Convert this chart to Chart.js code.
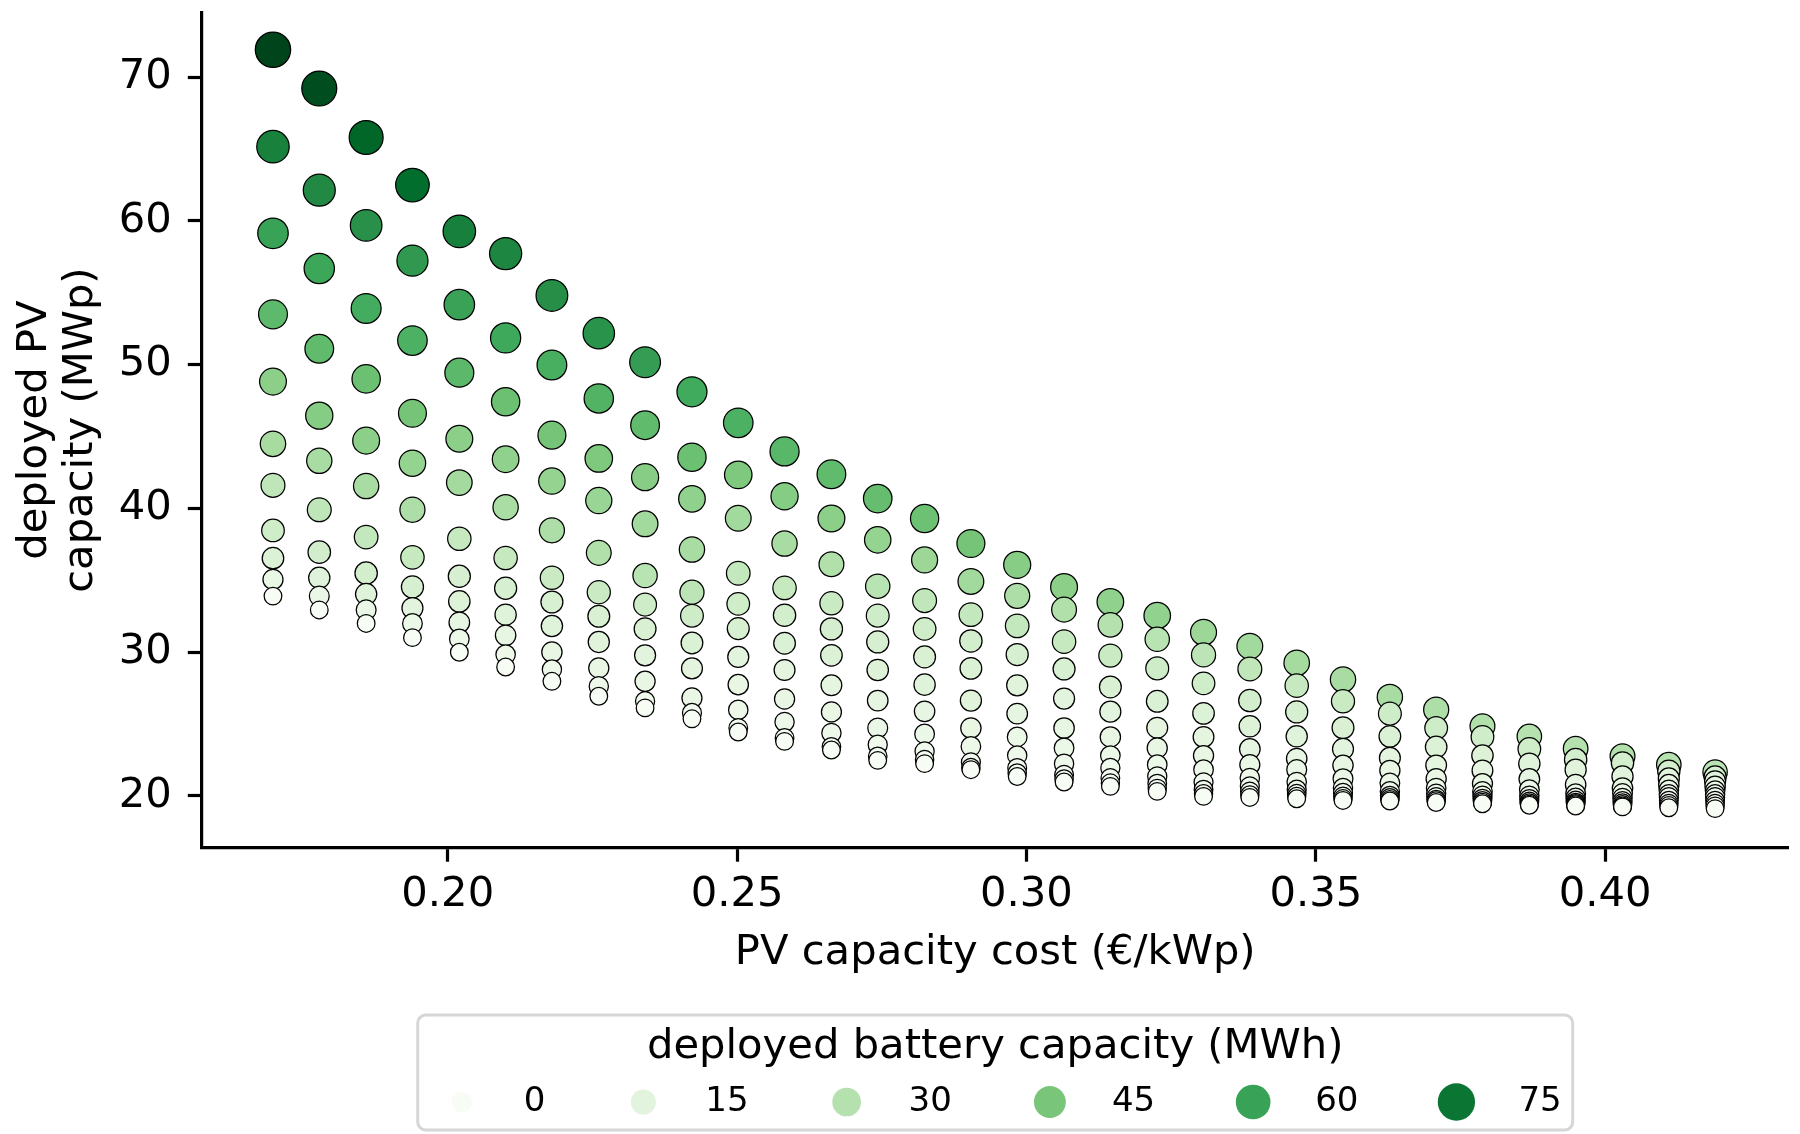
<!DOCTYPE html>
<html><head><meta charset="utf-8">
<script src="https://cdn.jsdelivr.net/npm/chart.js@4.4.1/dist/chart.umd.min.js"></script>
<style>html,body{margin:0;padding:0;background:#fff;overflow:hidden}#wrap{width:1800px;height:1134px}</style>
</head><body><div id="wrap"><canvas id="c" width="1800" height="1134"></canvas></div>
<script>
// ---------- data ----------
const pvCost = [0.1698, 0.1778, 0.1859, 0.1939, 0.2020, 0.2100, 0.2180, 0.2261, 0.2341, 0.2422, 0.2502,
  0.2582, 0.2663, 0.2743, 0.2824, 0.2904, 0.2984, 0.3065, 0.3145, 0.3226, 0.3306, 0.3386, 0.3467,
  0.3547, 0.3628, 0.3708, 0.3788, 0.3869, 0.3949, 0.4030, 0.4110, 0.4190];

const pvCapacity = [
  [71.92, 65.17, 59.14, 53.50, 48.82, 44.49, 41.60, 38.46, 36.53, 35.05, 33.89],
  [69.22, 62.14, 56.69, 51.10, 46.45, 43.31, 39.90, 36.95, 35.16, 33.89, 32.93],
  [65.81, 59.69, 53.91, 49.01, 44.71, 41.55, 38.00, 35.49, 34.03, 32.93, 31.99],
  [62.50, 57.24, 51.68, 46.62, 43.14, 39.90, 36.59, 34.53, 33.06, 31.99, 31.00],
  [59.28, 54.17, 49.44, 44.84, 41.79, 37.88, 35.27, 33.52, 32.06, 30.91, 29.98],
  [57.73, 51.86, 47.42, 43.42, 40.08, 36.54, 34.44, 32.60, 31.16, 29.82, 28.96],
  [54.82, 49.98, 45.09, 41.90, 38.47, 35.17, 33.48, 31.81, 30.00, 28.78, 27.96],
  [52.19, 47.65, 43.47, 40.54, 36.90, 34.16, 32.49, 30.70, 28.89, 27.61, 26.92],
  [50.17, 45.79, 42.17, 38.92, 35.32, 33.30, 31.61, 29.77, 27.96, 26.57, 26.11],
  [48.11, 43.56, 40.66, 37.13, 34.16, 32.53, 30.63, 28.86, 26.80, 25.76, 25.35],
  [45.95, 42.33, 39.31, 35.48, 33.35, 31.63, 29.66, 27.73, 25.97, 24.71, 24.43],
  [43.96, 40.84, 37.55, 34.46, 32.56, 30.61, 28.75, 26.73, 25.13, 24.02, 23.78],
  [42.37, 39.29, 36.11, 33.39, 31.61, 29.77, 27.68, 25.83, 24.37, 23.40, 23.18],
  [40.68, 37.81, 34.58, 32.53, 30.70, 28.75, 26.62, 24.71, 23.55, 22.74, 22.46],
  [39.29, 36.41, 33.58, 31.61, 29.66, 27.73, 25.87, 24.30, 23.08, 22.51, 22.23],
  [37.55, 34.91, 32.60, 30.77, 28.86, 26.62, 24.71, 23.43, 22.32, 21.95, 21.81],
  [36.07, 33.91, 31.82, 29.82, 27.68, 25.71, 24.09, 22.79, 21.93, 21.58, 21.34],
  [34.53, 32.95, 30.72, 28.82, 26.76, 24.71, 23.32, 22.23, 21.46, 21.16, 20.95],
  [33.49, 31.89, 29.75, 27.57, 25.85, 24.09, 22.79, 21.93, 21.23, 20.88, 20.65],
  [32.53, 30.89, 28.86, 26.57, 24.73, 23.32, 22.16, 21.34, 20.84, 20.51, 20.30],
  [31.37, 29.80, 27.82, 25.73, 24.09, 22.79, 21.81, 20.93, 20.42, 20.14, 19.95],
  [30.40, 28.82, 26.62, 24.83, 23.25, 22.16, 21.23, 20.65, 20.30, 20.05, 19.88],
  [29.24, 27.66, 25.83, 24.13, 22.58, 21.81, 20.95, 20.42, 20.14, 19.95, 19.79],
  [28.08, 26.57, 24.73, 23.25, 22.11, 21.18, 20.53, 20.19, 19.95, 19.79, 19.67],
  [26.87, 25.71, 24.13, 22.63, 21.76, 20.88, 20.30, 20.00, 19.84, 19.72, 19.63],
  [25.99, 24.71, 23.39, 22.11, 21.18, 20.53, 20.14, 19.91, 19.74, 19.63, 19.53],
  [24.83, 24.09, 22.79, 21.76, 20.84, 20.30, 20.00, 19.79, 19.65, 19.53, 19.44],
  [24.13, 23.25, 22.23, 21.16, 20.42, 20.00, 19.77, 19.60, 19.49, 19.40, 19.33],
  [23.27, 22.51, 21.81, 20.77, 20.14, 19.85, 19.65, 19.52, 19.44, 19.36, 19.28],
  [22.74, 22.28, 21.34, 20.53, 20.15, 19.84, 19.62, 19.48, 19.36, 19.28, 19.22],
  [22.16, 21.70, 21.20, 20.77, 20.40, 20.10, 19.90, 19.66, 19.45, 19.30, 19.16],
  [21.65, 21.30, 21.00, 20.65, 20.35, 20.10, 19.90, 19.66, 19.45, 19.28, 19.10]
];

const batteryCapacity = [
  [89.0, 71.0, 60.0, 51.0, 40.7, 34.0, 27.0, 21.5, 17.3, 11.6, 3.5],
  [86.4, 68.3, 58.7, 50.2, 42.3, 33.3, 27.0, 21.0, 16.3, 11.0, 3.5],
  [80.0, 66.0, 56.6, 48.1, 40.7, 33.3, 25.8, 20.5, 16.3, 11.0, 3.5],
  [77.9, 63.0, 54.5, 46.0, 38.6, 32.2, 24.8, 19.5, 15.2, 10.4, 3.5],
  [71.5, 59.8, 51.3, 40.7, 34.8, 24.8, 19.5, 16.8, 13.7, 10.0, 3.5],
  [69.4, 57.7, 48.1, 39.6, 33.2, 24.8, 19.5, 16.3, 13.1, 9.4, 3.5],
  [66.7, 55.5, 46.0, 38.6, 32.2, 24.2, 18.9, 16.3, 12.6, 8.9, 3.5],
  [65.1, 53.4, 43.9, 37.5, 31.1, 23.7, 18.4, 15.7, 12.0, 8.9, 3.5],
  [61.5, 50.2, 41.7, 35.4, 29.0, 22.6, 18.4, 15.2, 12.0, 8.3, 3.5],
  [57.1, 48.1, 39.6, 33.3, 27.9, 22.1, 17.8, 14.7, 11.5, 7.8, 3.5],
  [54.5, 43.9, 35.4, 25.8, 21.6, 18.9, 15.2, 12.6, 9.4, 6.7, 3.5],
  [52.0, 42.3, 33.3, 24.8, 20.5, 17.8, 14.7, 12.0, 8.9, 6.7, 3.5],
  [50.2, 40.7, 31.1, 23.7, 20.0, 17.3, 14.2, 11.5, 8.9, 6.2, 3.5],
  [49.2, 38.6, 29.0, 22.6, 19.5, 16.8, 13.6, 11.0, 8.3, 6.2, 3.5],
  [47.7, 36.4, 26.9, 21.6, 18.4, 16.3, 13.1, 10.4, 8.3, 5.7, 3.5],
  [46.0, 35.4, 25.8, 20.5, 17.8, 15.7, 12.6, 9.9, 7.8, 5.7, 3.5],
  [41.7, 32.2, 25.8, 19.5, 15.7, 13.7, 10.4, 8.9, 7.2, 5.7, 3.5],
  [40.7, 31.1, 24.8, 18.9, 15.2, 13.1, 10.4, 8.9, 7.2, 5.7, 3.5],
  [39.6, 30.1, 23.7, 18.4, 15.2, 12.6, 9.9, 8.3, 6.7, 5.2, 3.5],
  [39.1, 29.0, 22.6, 17.8, 14.7, 12.0, 9.9, 8.3, 6.7, 5.2, 3.5],
  [36.4, 27.9, 21.6, 17.3, 14.2, 12.0, 9.9, 7.8, 6.7, 5.2, 3.5],
  [35.4, 26.9, 20.5, 16.8, 13.6, 11.5, 9.4, 7.8, 6.2, 5.2, 3.5],
  [34.3, 24.8, 19.5, 16.3, 13.1, 11.0, 9.4, 7.8, 6.2, 4.7, 3.5],
  [33.3, 23.7, 18.4, 15.2, 12.6, 11.0, 8.9, 7.8, 6.2, 4.7, 3.5],
  [33.3, 22.6, 17.8, 14.7, 12.0, 10.4, 8.9, 7.2, 6.2, 4.7, 3.5],
  [32.2, 22.1, 17.3, 14.2, 12.0, 9.9, 8.3, 7.2, 5.7, 4.7, 3.5],
  [31.1, 21.6, 16.8, 14.2, 11.5, 9.9, 8.3, 7.2, 5.7, 4.7, 3.5],
  [29.6, 21.6, 16.3, 13.7, 10.4, 8.9, 7.8, 6.7, 5.7, 4.7, 3.5],
  [30.1, 20.5, 15.7, 13.1, 10.4, 8.9, 7.8, 6.7, 5.7, 4.7, 3.5],
  [31.1, 20.5, 15.7, 13.1, 10.4, 8.9, 7.8, 6.7, 5.7, 4.7, 3.5],
  [29.6, 20.0, 15.2, 12.6, 9.9, 8.9, 7.8, 6.7, 5.7, 4.7, 3.5],
  [29.0, 19.5, 15.2, 12.6, 9.9, 8.9, 7.8, 6.7, 5.7, 4.7, 3.5]
];

const legendValues = [0, 15, 30, 45, 60, 75];
const xTicks = [0.20, 0.25, 0.30, 0.35, 0.40];
const yTicks = [20, 30, 40, 50, 60, 70];

// ---------- styling helpers ----------
const FONT = "'DejaVu Sans', sans-serif";
const GREENS = ['#f7fcf5','#e5f5e0','#c7e9c0','#a1d99b','#74c476','#41ab5d','#238b45','#006d2c','#00441b'];
function hexRgb(h){ return [1,3,5].map(i => parseInt(h.slice(i, i+2), 16)); }
const GREENS_RGB = GREENS.map(hexRgb);
function greens(t){
  t = Math.max(0, Math.min(1, t));
  const p = t * (GREENS_RGB.length - 1);
  const i = Math.min(Math.floor(p), GREENS_RGB.length - 2);
  const f = p - i;
  const a = GREENS_RGB[i], b = GREENS_RGB[i+1];
  return 'rgb(' + a.map((v, k) => Math.round(v + (b[k] - v) * f)).join(',') + ')';
}
const allB = batteryCapacity.flat();
const bMin = Math.min(...allB), bMax = Math.max(...allB);
function norm(b){ return (b - bMin) / (bMax - bMin); }
function colorFor(b){ return greens(norm(b)); }
const PX_PER_PT = 300 / 72;
function radiusFor(b){ const s = 18 + norm(b) * 54; return Math.sqrt(Math.max(s, 0.5)) * PX_PER_PT / 2; }

const points = [];
pvCost.forEach((x, i) => pvCapacity[i].forEach((y, j) => points.push({x: x, y: y, b: batteryCapacity[i][j]})));

// ---------- custom legend (matplotlib style) ----------
const batteryLegend = {
  id: 'batteryLegend',
  afterDraw(chart){
    const ctx = chart.ctx, area = chart.chartArea;
    ctx.save();
    const labFont = '34px ' + FONT;
    ctx.font = labFont;
    const handleOff = 33, textOff = 95, colSpace = 65, padX = 11;
    const widths = legendValues.map(v => ctx.measureText(String(v)).width);
    let content = 0;
    widths.forEach((w, i) => { content += textOff + w + (i < widths.length - 1 ? colSpace : 0); });
    const boxW = content + 2 * padX;
    const cx = (area.left + area.right) / 2;
    const boxL = cx - boxW / 2, boxT = chart.height - 119, boxH = 115;
    ctx.beginPath();
    if (ctx.roundRect) ctx.roundRect(boxL, boxT, boxW, boxH, 8); else ctx.rect(boxL, boxT, boxW, boxH);
    ctx.fillStyle = '#ffffff'; ctx.fill();
    ctx.lineWidth = 3; ctx.strokeStyle = '#d6d6d6'; ctx.stroke();
    ctx.fillStyle = '#000';
    ctx.font = '41.7px ' + FONT;
    ctx.textAlign = 'center'; ctx.textBaseline = 'middle';
    ctx.fillText('deployed battery capacity (MWh)', cx, boxT + 32);
    let x = boxL + padX;
    const ey = boxT + 87;
    legendValues.forEach((v, i) => {
      ctx.beginPath();
      ctx.arc(x + handleOff, ey, radiusFor(v) + PX_PER_PT / 2, 0, Math.PI * 2);
      ctx.fillStyle = colorFor(v); ctx.fill();
      ctx.fillStyle = '#000';
      ctx.font = labFont; ctx.textAlign = 'left'; ctx.textBaseline = 'middle';
      ctx.fillText(String(v), x + textOff, ey);
      x += textOff + widths[i] + colSpace;
    });
    ctx.restore();
  }
};

// ---------- chart ----------
new Chart(document.getElementById('c'), {
  type: 'scatter',
  data: { datasets: [{
    data: points,
    pointBackgroundColor: c => colorFor(c.raw.b),
    pointBorderColor: '#000',
    pointBorderWidth: 1.25,
    pointRadius: c => radiusFor(c.raw.b),
    pointHoverRadius: c => radiusFor(c.raw.b),
    clip: false
  }]},
  options: {
    responsive: false, animation: false, devicePixelRatio: 1, events: [],
    layout: { autoPadding: false, padding: { top: 12.5, right: 11.4, bottom: 156.3, left: 0 } },
    plugins: { legend: { display: false }, tooltip: { enabled: false } },
    scales: {
      x: {
        type: 'linear', min: 0.1575, max: 0.4317,
        afterFit(s){ s.height = 130; s.paddingLeft = 0; s.paddingRight = 0; s.paddingTop = 0; s.paddingBottom = 0; },
        afterBuildTicks(s){ s.ticks = xTicks.map(v => ({ value: v })); },
        grid: { drawOnChartArea: false, drawTicks: true, tickLength: 14, tickWidth: 3.2, tickColor: '#000' },
        border: { display: true, color: '#000', width: 3.2 },
        ticks: { color: '#000', font: { family: FONT, size: 41.7 }, padding: 8.5, maxRotation: 0, autoSkip: false,
                 callback: v => Number(v).toFixed(2) },
        title: { display: true, text: 'PV capacity cost (€/kWp)', color: '#000',
                 font: { family: FONT, size: 41.7, lineHeight: 1.103 }, padding: { top: 0, bottom: 2 } }
      },
      y: {
        type: 'linear', min: 16.38, max: 74.51,
        afterFit(s){ s.width = 201.8; s.paddingLeft = 0; s.paddingRight = 0; s.paddingTop = 0; s.paddingBottom = 0; },
        afterBuildTicks(s){ s.ticks = yTicks.map(v => ({ value: v })); },
        grid: { drawOnChartArea: false, drawTicks: true, tickLength: 14, tickWidth: 3.2, tickColor: '#000' },
        border: { display: true, color: '#000', width: 3.2 },
        ticks: { color: '#000', font: { family: FONT, size: 41.7 }, padding: 16, autoSkip: false,
                 callback: v => String(v) },
        title: { display: true, text: ['deployed PV', 'capacity (MWp)'], color: '#000',
                 font: { family: FONT, size: 41.7, lineHeight: 1.103 }, padding: { top: 12.5, bottom: 0 } }
      }
    }
  },
  plugins: [batteryLegend]
});
</script>
</body></html>
